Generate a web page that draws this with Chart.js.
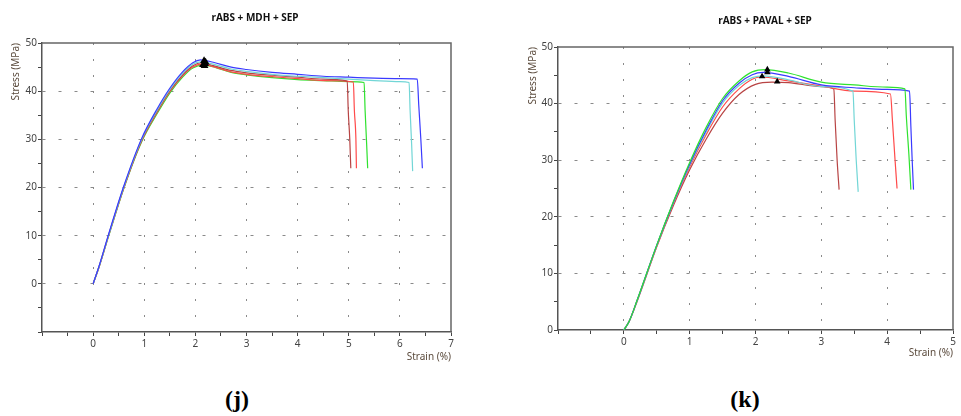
<!DOCTYPE html>
<html><head><meta charset="utf-8">
<script src="https://cdn.jsdelivr.net/npm/chart.js@4/dist/chart.umd.min.js"></script>
<style>
html,body{margin:0;padding:0;background:#fff;width:961px;height:416px;overflow:hidden;position:relative}
canvas{position:absolute;top:0}
#cj{left:0}
#ck{left:480px}
.ttl{position:absolute;font:bold 10px "Noto Sans",sans-serif;color:#111;white-space:nowrap;transform:translateX(-50%);line-height:12px}
.lab{position:absolute;font:bold 24px "Liberation Serif",serif;color:#000;transform:translateX(-50%);line-height:28px}
</style></head><body>
<canvas id="cj" width="480" height="370"></canvas>
<canvas id="ck" width="481" height="370"></canvas>
<div class="ttl" style="left:255px;top:11px">rABS + MDH + SEP</div>
<div class="ttl" style="left:765px;top:14px">rABS + PAVAL + SEP</div>
<div class="lab" style="left:237px;top:385px">(j)</div>
<div class="lab" style="left:745px;top:385px">(k)</div>
<script>
// ---------- Panel (j): rABS + MDH + SEP ----------
const jBlueStrain  = [0, 0.12, 0.3, 0.6, 0.95, 1.25, 1.5, 1.75, 1.95, 2.1, 2.35, 2.7, 3.0, 3.5, 4.0, 4.5, 5.0, 5.5, 6.0, 6.34, 6.37, 6.41, 6.44];
const jBlueStress  = [0, 3.8, 10.2, 20.3, 30.2, 36.3, 40.6, 44.0, 45.9, 46.5, 46.0, 45.0, 44.5, 43.9, 43.5, 43.1, 42.9, 42.7, 42.6, 42.5, 37, 30, 24];
const jCyanStrain  = [0, 0.12, 0.3, 0.6, 0.95, 1.25, 1.5, 1.75, 1.95, 2.12, 2.35, 2.7, 3.0, 3.5, 4.0, 4.5, 5.0, 5.5, 6.0, 6.18, 6.2, 6.23, 6.25];
const jCyanStress  = [0, 3.7, 10.0, 20.1, 30.0, 36.0, 40.3, 43.7, 45.6, 46.1, 45.6, 44.6, 44.1, 43.5, 43.1, 42.8, 42.5, 42.2, 42.0, 41.8, 36, 29, 23.4];
const jDarkStrain  = [0, 0.12, 0.3, 0.6, 0.95, 1.25, 1.5, 1.75, 1.95, 2.12, 2.35, 2.7, 3.0, 3.5, 4.0, 4.5, 4.97, 4.99, 5.02, 5.04];
const jDarkStress  = [0, 3.7, 10.0, 20.0, 29.8, 35.8, 40.1, 43.4, 45.3, 45.9, 45.3, 44.3, 43.8, 43.3, 42.9, 42.5, 42.1, 36, 30, 24];
const jRedStrain   = [0, 0.12, 0.3, 0.6, 0.95, 1.25, 1.5, 1.75, 1.95, 2.12, 2.35, 2.7, 3.0, 3.5, 4.0, 4.5, 5.09, 5.11, 5.14, 5.15];
const jRedStress   = [0, 3.6, 9.9, 19.9, 29.7, 35.6, 39.9, 43.2, 45.0, 45.6, 45.1, 44.0, 43.5, 43.0, 42.6, 42.2, 41.9, 36, 30, 24];
const jGreenStrain = [0, 0.12, 0.3, 0.6, 0.95, 1.25, 1.5, 1.75, 1.95, 2.15, 2.4, 2.7, 3.0, 3.5, 4.0, 4.5, 5.0, 5.3, 5.32, 5.35, 5.37];
const jGreenStress = [0, 3.6, 9.8, 19.8, 29.5, 35.3, 39.6, 42.9, 44.8, 45.4, 44.9, 43.9, 43.4, 42.8, 42.4, 42.2, 42.0, 41.8, 36, 29, 24];
const jPeakStrain  = [2.15, 2.17, 2.19, 2.2, 2.18];
const jPeakStress  = [45.5, 46.3, 45.7, 46.0, 45.3];

// ---------- Panel (k): rABS + PAVAL + SEP ----------
const kBlueStrain  = [0, 0.08, 0.2, 0.5, 0.75, 1.0, 1.25, 1.5, 1.75, 1.95, 2.12, 2.5, 3.0, 3.5, 4.0, 4.34, 4.36, 4.38, 4.40];
const kBlueStress  = [0, 1.5, 5.2, 15, 22.5, 29.3, 35.3, 40.5, 43.6, 45.1, 45.5, 44.8, 43.3, 42.8, 42.5, 42.2, 36, 30, 24.8];
const kGreenStrain = [0, 0.08, 0.2, 0.5, 0.75, 1.0, 1.25, 1.5, 1.75, 1.95, 2.15, 2.5, 3.0, 3.5, 4.0, 4.27, 4.29, 4.33, 4.36];
const kGreenStress = [0, 1.5, 5.2, 15, 22.6, 29.6, 35.8, 40.9, 44.0, 45.6, 46.0, 45.4, 43.8, 43.3, 42.9, 42.6, 38, 31, 24.8];
const kCyanStrain  = [0, 0.08, 0.2, 0.5, 0.75, 1.0, 1.25, 1.5, 1.75, 1.95, 2.12, 2.5, 3.0, 3.48, 3.5, 3.53, 3.56];
const kCyanStress  = [0, 1.5, 5.1, 14.9, 22.4, 29.1, 35.0, 40.1, 43.2, 44.6, 44.9, 44.2, 43.0, 42.2, 37, 30, 24.4];
const kRedStrain   = [0, 0.08, 0.2, 0.5, 0.75, 1.0, 1.25, 1.5, 1.75, 1.95, 2.08, 2.5, 3.0, 3.5, 4.05, 4.08, 4.12, 4.15];
const kRedStress   = [0, 1.5, 5.1, 14.8, 22.2, 28.8, 34.5, 39.4, 42.6, 44.3, 44.7, 44.0, 43.1, 42.2, 41.7, 37, 30, 25];
const kDarkStrain  = [0, 0.08, 0.2, 0.5, 0.75, 1.0, 1.25, 1.5, 1.75, 2.0, 2.25, 2.5, 3.0, 3.19, 3.21, 3.24, 3.27];
const kDarkStress  = [0, 1.5, 5.0, 14.7, 21.9, 28.3, 33.7, 38.3, 41.6, 43.4, 43.8, 43.7, 43.0, 42.6, 37, 30, 24.8];
const kPeakStrain  = [2.10, 2.18, 2.18, 2.33];
const kPeakStress  = [44.8, 46.0, 45.5, 43.9];

// ---------- Axis tick labels ----------
const jXLabels = [0, 1, 2, 3, 4, 5, 6, 7];
const kXLabels = [0, 1, 2, 3, 4, 5];
const yLabels  = [0, 10, 20, 30, 40, 50];

const COL = {blue:'#3a3aff', cyan:'#72d6d6', green:'#2fe22f', red:'#ff4a4a', dark:'#b84444'};

function line(strain, stress, color, order) {
  return {data: strain.map((x, i) => ({x: x, y: stress[i]})), borderColor: color, borderWidth: 1.2,
    pointRadius: 0, showLine: true, fill: false, cubicInterpolationMode: 'monotone', order: order};
}
function peaks(strain, stress, r) {
  return {data: strain.map((x, i) => ({x: x, y: stress[i]})), showLine: false, pointStyle: 'triangle',
    pointRadius: r, backgroundColor: '#000', borderColor: '#000', borderWidth: 0, order: 0};
}
const near = (v, list) => list.some(t => Math.abs(v - t) < 1e-6);
const FONT = {family: 'Noto Sans', size: 10};

function xScale(min, max, labels, h) {
  return {type: 'linear', min: min, max: max, position: 'bottom',
    afterFit(s) { s.height = h; },
    ticks: {stepSize: 0.5, autoSkip: false, maxRotation: 0, padding: 2, color: '#444', font: FONT,
      callback: v => near(v, labels) ? String(Math.round(v)) : ''},
    grid: {color: c => (c.tick && Math.abs(c.tick.value - Math.round(c.tick.value)) < 1e-6 && c.tick.value > min && c.tick.value < max) ? '#8a8a8a' : 'rgba(0,0,0,0)',
      tickColor: '#444', tickLength: 4, lineWidth: 1},
    border: {display: true, color: '#555', width: 1.5, dash: [2, 14]},
    title: {display: true, text: 'Strain (%)', align: 'end', color: '#5a4a3c', font: FONT, padding: {top: 0, bottom: 0}}};
}
function yScale(min, max, w, tp) {
  return {type: 'linear', min: min, max: max,
    afterFit(s) { s.width = w; },
    ticks: {stepSize: 5, autoSkip: false, padding: 1, color: '#444', font: FONT,
      callback: v => near(v, yLabels) ? String(Math.round(v)) : ''},
    grid: {color: c => (c.tick && Math.abs(c.tick.value % 10) < 1e-6 && c.tick.value > min && c.tick.value < max) ? '#8a8a8a' : 'rgba(0,0,0,0)',
      tickColor: '#444', tickLength: 4, lineWidth: 1},
    border: {display: true, color: '#555', width: 1.5, dash: [3, 13]},
    title: {display: true, text: 'Stress (MPa)', align: 'end', color: '#5a4a3c', font: FONT, padding: {top: tp, bottom: 0}}};
}
const frame = {id: 'frame', beforeDatasetsDraw(chart) {
  const a = chart.chartArea, c = chart.ctx;
  c.save(); c.strokeStyle = '#666'; c.lineWidth = 1.5;
  c.beginPath(); c.moveTo(a.left, a.top); c.lineTo(a.right, a.top); c.lineTo(a.right, a.bottom); c.stroke();
  c.restore();
}};
const common = {responsive: false, animation: false, events: [],
  plugins: {legend: {display: false}, tooltip: {enabled: false}, title: {display: false}}};

new Chart(document.getElementById('cj'), {
  type: 'scatter',
  data: {datasets: [
    peaks(jPeakStrain, jPeakStress, 4.5),
    line(jBlueStrain, jBlueStress, COL.blue, 1),
    line(jCyanStrain, jCyanStress, COL.cyan, 2),
    line(jDarkStrain, jDarkStress, COL.dark, 3),
    line(jRedStrain, jRedStress, COL.red, 4),
    line(jGreenStrain, jGreenStress, COL.green, 5)
  ]},
  options: Object.assign({}, common, {
    layout: {padding: {top: 43, right: 29, bottom: 7, left: 0}},
    scales: {x: xScale(-1, 7, jXLabels, 31), y: yScale(-10, 50, 42, 10)}
  }),
  plugins: [frame]
});

new Chart(document.getElementById('ck'), {
  type: 'scatter',
  data: {datasets: [
    peaks(kPeakStrain, kPeakStress, 3.8),
    line(kGreenStrain, kGreenStress, COL.green, 1),
    line(kBlueStrain, kBlueStress, COL.blue, 2),
    line(kCyanStrain, kCyanStress, COL.cyan, 3),
    line(kRedStrain, kRedStress, COL.red, 4),
    line(kDarkStrain, kDarkStress, COL.dark, 5)
  ]},
  options: Object.assign({}, common, {
    layout: {padding: {top: 47, right: 8, bottom: 11, left: 0}},
    scales: {x: xScale(-1, 5, kXLabels, 29), y: yScale(0, 50, 78, 47)}
  }),
  plugins: [frame]
});
</script>
</body></html>
